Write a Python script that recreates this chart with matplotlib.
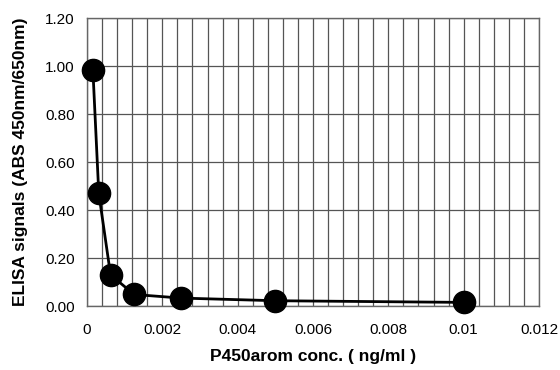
import matplotlib
matplotlib.use("Agg")
import matplotlib.pyplot as plt
import numpy as np
from matplotlib.ticker import MultipleLocator, FixedLocator

conc = [0.000156, 0.0003125, 0.000625, 0.00125, 0.0025, 0.005, 0.01]
signal = [0.985, 0.47, 0.13, 0.048, 0.033, 0.022, 0.015]
xticks = [0, 0.002, 0.004, 0.006, 0.008, 0.01, 0.012]
xticklabels = ["0", "0.002", "0.004", "0.006", "0.008", "0.01", "0.012"]
yticks = [0.0, 0.2, 0.4, 0.6, 0.8, 1.0, 1.2]
yticklabels = ["0.00", "0.20", "0.40", "0.60", "0.80", "1.00", "1.20"]

plt.rcParams['font.family'] = ['Liberation Sans', 'DejaVu Sans']

fig = plt.figure(figsize=(5.6, 3.7), dpi=100)
ax = fig.add_axes([87/560, 1-306/370, (539-87)/560, (306-18)/370])

ax.set_xlim(0, 0.012)
ax.set_ylim(0, 1.2)
ax.xaxis.set_major_locator(FixedLocator(xticks))
ax.set_xticklabels(xticklabels)
ax.xaxis.set_minor_locator(MultipleLocator(0.0004))
ax.yaxis.set_major_locator(FixedLocator(yticks))
ax.set_yticklabels(yticklabels)

ax.grid(True, which='both', axis='x', color='#555555', linewidth=0.9)
ax.grid(True, which='major', axis='y', color='#555555', linewidth=0.9)
ax.set_axisbelow(True)

ax.plot(conc, signal, color='black', linewidth=2, marker='o', markersize=16,
        markerfacecolor='black', markeredgecolor='black', zorder=3, clip_on=False)

for s in ax.spines.values():
    s.set_color('#666666')
    s.set_linewidth(1)

ax.tick_params(which='both', length=0, labelsize=11, colors='black')
ax.tick_params(axis='y', pad=9)
ax.tick_params(axis='x', pad=12)

ax.set_xlabel("P450arom conc. ( ng/ml )", fontsize=12.5, fontweight='bold', labelpad=9)
ax.set_ylabel("ELISA signals (ABS 450nm/650nm)", fontsize=12.5, fontweight='bold', labelpad=12)

fig.savefig("out.png", dpi=100)
